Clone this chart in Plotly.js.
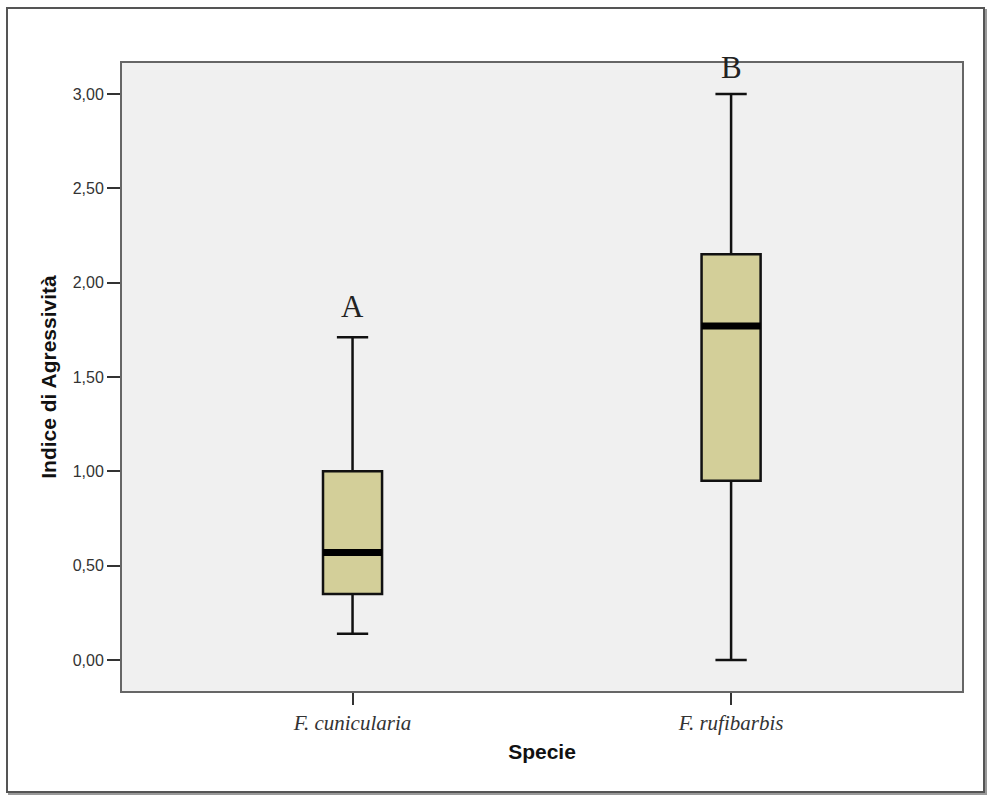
<!DOCTYPE html>
<html>
<head>
<meta charset="utf-8">
<script src="https://cdn.plot.ly/plotly-3.0.1.min.js"></script>
<style>
  html, body { margin: 0; padding: 0; background: #ffffff; }
  #wrap { position: relative; width: 988px; height: 803px; }
  #chart { position: absolute; left: 0; top: 0; width: 988px; height: 803px; }
  #frame { position: absolute; left: 6px; top: 7px; width: 975px; height: 782px;
           border: 2px solid #555; box-shadow: 2px 2px 0 #999; pointer-events: none; }
</style>
</head>
<body>
<div id="wrap">
  <div id="chart"></div>
  <div id="frame"></div>
</div>
<script>
// ---- data ----
const categories   = ['F. cunicularia', 'F. rufibarbis'];
const lowerFence   = [0.14, 0.00];
const q1           = [0.35, 0.95];
const median       = [0.57, 1.77];
const q3           = [1.00, 2.15];
const upperFence   = [1.71, 3.00];
const groupLetters = ['A', 'B'];
const letterShift  = [11, 7];
const yTickVals    = [0, 0.5, 1, 1.5, 2, 2.5, 3];

const boxWidth = 0.156;

const trace = {
  type: 'box',
  x: categories,
  q1: q1,
  median: median,
  q3: q3,
  lowerfence: lowerFence,
  upperfence: upperFence,
  boxpoints: false,
  width: boxWidth,
  whiskerwidth: 0.53,
  fillcolor: '#d3cf99',
  line: { color: '#111111', width: 2.5 },
  hoverinfo: 'skip',
  showlegend: false
};

const shapes = categories.map((c, i) => ({
  type: 'line', xref: 'x', yref: 'y',
  x0: i - boxWidth / 2, x1: i + boxWidth / 2,
  y0: median[i], y1: median[i],
  line: { color: '#000000', width: 7 }
}));

const annotations = categories.map((c, i) => ({
  x: c, y: upperFence[i], xref: 'x', yref: 'y',
  text: groupLetters[i], showarrow: false,
  yanchor: 'bottom', yshift: letterShift[i],
  font: { family: 'Liberation Serif, Times New Roman, serif', size: 31, color: '#222222' }
}));

const layout = {
  width: 988, height: 803,
  margin: { l: 122, r: 26, t: 63, b: 112 },
  paper_bgcolor: 'rgba(0,0,0,0)',
  plot_bgcolor: '#f0f0f0',
  separators: ',.',
  showlegend: false,
  xaxis: {
    type: 'category',
    range: [-0.609, 1.61],
    showgrid: false, zeroline: false,
    showline: true, mirror: true, linecolor: '#666666', linewidth: 2,
    ticks: 'outside', ticklen: 12, tickwidth: 2, tickcolor: '#333333',
    tickfont: { family: 'Liberation Serif, Times New Roman, serif', size: 21, color: '#333333', style: 'italic' },
    title: { text: 'Specie', standoff: 10,
             font: { family: 'Liberation Sans, Arial, sans-serif', size: 21, color: '#111111', weight: 'bold' } }
  },
  yaxis: {
    range: [-0.164, 3.164],
    tickvals: yTickVals,
    tickformat: '.2f',
    showgrid: false, zeroline: false,
    showline: true, mirror: true, linecolor: '#666666', linewidth: 2,
    ticks: 'outside', ticklen: 13, tickwidth: 2, tickcolor: '#333333',
    tickfont: { family: 'Liberation Sans, Arial, sans-serif', size: 16, color: '#333333' },
    title: { text: 'Indice di Agressività', standoff: 10,
             font: { family: 'Liberation Sans, Arial, sans-serif', size: 21, color: '#111111', weight: 'bold' } }
  },
  shapes: shapes,
  annotations: annotations
};

Plotly.newPlot('chart', [trace], layout, { staticPlot: true, displayModeBar: false });
</script>
</body>
</html>
